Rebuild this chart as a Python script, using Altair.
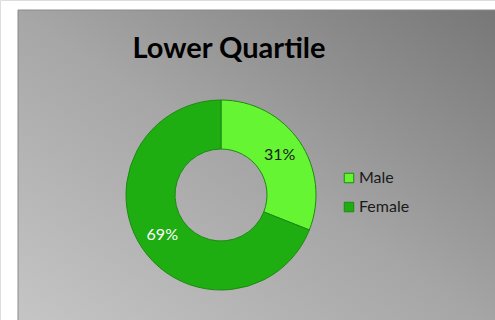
import altair as alt
import pandas as pd

categories = ["Male", "Female"]
values = [31, 69]
labels = ["31%", "69%"]
label_colors = ["#1a1a1a", "#ffffff"]
title_text = "Lower Quartile"

df = pd.DataFrame({"gender": categories, "pct": values, "label": labels,
                   "lcolor": label_colors, "order": [0, 1]})

W, H = 495, 320
CX, CY = 221, 195

bg = alt.Chart(pd.DataFrame({"a": [0]})).mark_rect(
    fill=alt.Gradient(gradient="linear", x1=0, y1=1, x2=1, y2=0,
                      stops=[alt.GradientStop(color="#c8c8c8", offset=0),
                             alt.GradientStop(color="#a6a6a6", offset=0.5),
                             alt.GradientStop(color="#747474", offset=1)]),
    stroke="#8a8a8a", strokeWidth=1
).encode(x=alt.value(18), x2=alt.value(W + 30), y=alt.value(10), y2=alt.value(H + 30))

base = alt.Chart(df).encode(
    theta=alt.Theta("pct:Q", stack=True),
    order=alt.Order("order:Q"),
    x=alt.value(CX), y=alt.value(CY),
)

arcs = base.mark_arc(outerRadius=95, innerRadius=46, stroke="#1c8a10", strokeWidth=1).encode(
    color=alt.Color("gender:N", sort=categories,
                    scale=alt.Scale(domain=categories, range=["#66f533", "#1fae12"]),
                    legend=alt.Legend(title=None, orient="none", legendX=341, legendY=170,
                                      symbolType="square", symbolSize=90,
                                      symbolStrokeColor="#1c8a10", symbolStrokeWidth=1,
                                      labelFont="Lato", labelFontSize=16, labelColor="#1a1a1a",
                                      rowPadding=13, labelOffset=2))
)

text = base.mark_text(radius=71, font="Lato", fontSize=16, align="center", baseline="middle").encode(
    text="label:N",
    color=alt.Color("lcolor:N", scale=None),
)

title = alt.Chart(pd.DataFrame({"t": [title_text]})).mark_text(
    font="Lato", fontWeight="bold", fontSize=29, color="#000000",
    align="center", baseline="alphabetic"
).encode(text="t:N", x=alt.value(229), y=alt.value(58))

chart = alt.layer(bg, arcs, text, title).properties(
    width=W, height=H, autosize=alt.AutoSizeParams(type="none"), padding=0
).configure_view(stroke=None).configure(background="#ffffff")

chart.save("out.html", embed_options={"renderer": "svg", "actions": False})
